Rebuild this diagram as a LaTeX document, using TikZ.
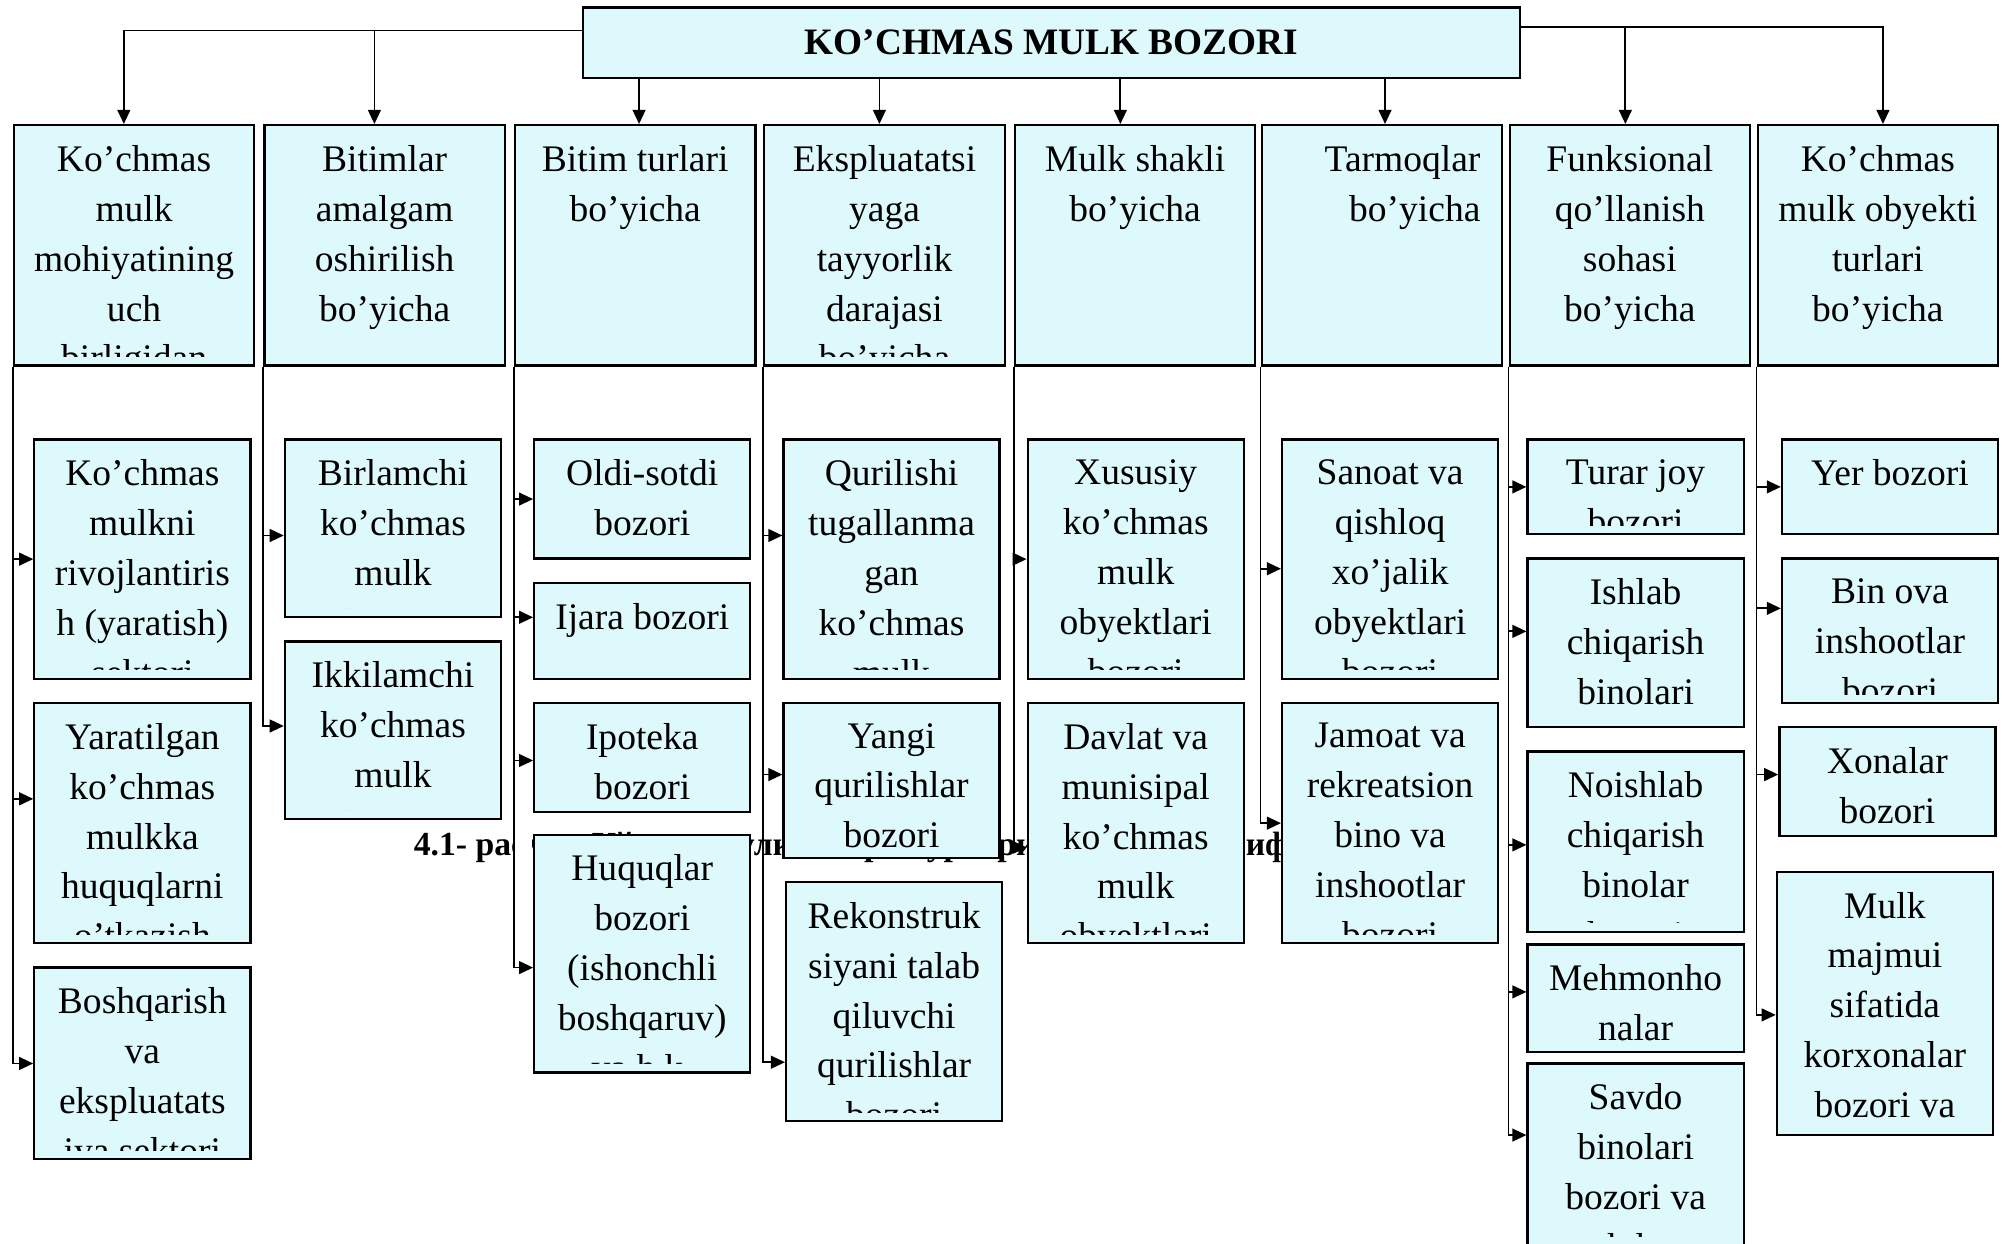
\documentclass[tikz,border=0pt]{standalone}
\usepackage{fontspec}
\setmainfont{Liberation Serif}
\usetikzlibrary{arrows.meta}
\definecolor{boxfill}{RGB}{222,249,251}

\tikzset{
  boxtext/.style={align=center, inner sep=0pt, minimum width=0pt, minimum height=0pt, font={\fontsize{8.35}{11.1}\selectfont}},
  box/.style 2 args={draw, line width=0.5pt, fill=boxfill, anchor=north west, inner sep=0pt,
    path picture={
      \clip ([yshift=0.7mm]path picture bounding box.south west) rectangle (path picture bounding box.north east);
      \node[boxtext, anchor=north] (#1) at ([yshift=-1.5mm]path picture bounding box.north) {#2};
    }},
  boxr/.style 2 args={draw, line width=0.5pt, fill=boxfill, anchor=north west, inner sep=0pt,
    path picture={
      \clip ([yshift=0.7mm]path picture bounding box.south west) rectangle (path picture bounding box.north east);
      \node[boxtext, align=right, anchor=north east] (#1) at ([xshift=-1.6mm,yshift=-1.5mm]path picture bounding box.north east) {#2};
    }},
  kbox/.style={minimum width=18.8mm, minimum height=18.8mm},
  sbox/.style={minimum width=16.9mm},
}

\begin{document}
\begin{tikzpicture}[x=0.1mm, y=-0.1mm, line width=0.4pt, >={Triangle[length=1.1mm,width=1mm]}]
\useasboundingbox (0,0) rectangle (1566,973);

% caption, mostly hidden behind the boxes
\node[anchor=base west, inner sep=0pt, font={\fontsize{7.5}{9}\selectfont\bfseries}] (cap) at (323,669.5)
  {4.1- расм.\hspace{1.8mm} Кўчмас мулк бозори турлари бўйича классификацияси};
\fill[white] (403,645) rectangle (416,690);

% top
\node[draw, line width=0.5pt, fill=boxfill, anchor=north west, minimum width=73.3mm, minimum height=5.5mm,
  font={\fontsize{8.3}{10}\selectfont\bfseries}] (top) at (455,5) {KO’CHMAS MULK BOZORI};

% categories
\node[box={t1}{Ko’chmas\\mulk\\mohiyatining\\uch\\birligidan}, kbox] (k1) at (10,97) {};
\node[box={t2}{Bitimlar\\amalgam\\oshirilish\\bo’yicha}, kbox] (k2) at (206,97) {};
\node[box={t3}{Bitim turlari\\bo’yicha}, kbox] (k3) at (402,97) {};
\node[box={t4}{Ekspluatatsi\\yaga\\tayyorlik\\darajasi\\bo’yicha}, kbox] (k4) at (597,97) {};
\node[box={t5}{Mulk shakli\\bo’yicha}, kbox] (k5) at (793,97) {};
\node[boxr={t6}{Tarmoqlar\\bo’yicha}, kbox] (k6) at (986,97) {};
\node[box={t7}{Funksional\\qo’llanish\\sohasi\\bo’yicha}, kbox] (k7) at (1180,97) {};
\node[box={t8}{Ko’chmas\\mulk obyekti\\turlari\\bo’yicha}, kbox] (k8) at (1374,97) {};

% column 1
\node[box={t11}{Ko’chmas\\mulkni\\rivojlantiris\\h (yaratish)\\sektori}, sbox, minimum height=18.7mm] (s11) at (26,343) {};
\node[box={t12}{Yaratilgan\\ko’chmas\\mulkka\\huquqlarni\\o’tkazish}, sbox, minimum height=18.8mm] (s12) at (26,549) {};
\node[box={t13}{Boshqarish\\va\\ekspluatats\\iya sektori}, sbox, minimum height=15mm] (s13) at (26,756) {};
% column 2
\node[box={t21}{Birlamchi\\ko’chmas\\mulk\\bozori}, sbox, minimum height=13.9mm] (s21) at (222,343) {};
\node[box={t22}{Ikkilamchi\\ko’chmas\\mulk\\bozori}, sbox, minimum height=13.9mm] (s22) at (222,501) {};
% column 3
\node[box={t31}{Oldi-sotdi\\bozori}, sbox, minimum height=9.3mm] (s31) at (417,343) {};
\node[box={t32}{Ijara bozori}, sbox, minimum height=7.5mm] (s32) at (417,455) {};
\node[box={t33}{Ipoteka\\bozori}, sbox, minimum height=8.5mm] (s33) at (417,549) {};
\node[box={t34}{Huquqlar\\bozori\\(ishonchli\\boshqaruv)\\va h.k.}, sbox, minimum height=18.6mm] (s34) at (417,652) {};
% column 4
\node[box={t41}{Qurilishi\\tugallanma\\gan\\ko’chmas\\mulk\\bozori}, sbox, minimum height=18.7mm] (s41) at (612,343) {};
\node[box={t42}{Yangi\\qurilishlar\\bozori}, sbox, minimum height=12.1mm] (s42) at (612,549) {};
\node[box={t43}{Rekonstruk\\siyani talab\\qiluvchi\\qurilishlar\\bozori}, sbox, minimum height=18.7mm] (s43) at (614,689) {};
% column 5
\node[box={t51}{Xususiy\\ko’chmas\\mulk\\obyektlari\\bozori}, sbox, minimum height=18.7mm] (s51) at (803,343) {};
\node[box={t52}{Davlat va\\munisipal\\ko’chmas\\mulk\\obyektlari}, sbox, minimum height=18.8mm] (s52) at (803,549) {};
% column 6
\node[box={t61}{Sanoat va\\qishloq\\xo’jalik\\obyektlari\\bozori}, sbox, minimum height=18.7mm] (s61) at (1002,343) {};
\node[box={t62}{Jamoat va\\rekreatsion\\bino va\\inshootlar\\bozori}, sbox, minimum height=18.8mm] (s62) at (1002,549) {};
% column 7
\node[box={t71}{Turar joy\\bozori}, sbox, minimum height=7.4mm] (s71) at (1194,343) {};
\node[box={t72}{Ishlab\\chiqarish\\binolari}, sbox, minimum height=13.2mm] (s72) at (1194,436) {};
\node[box={t73}{Noishlab\\chiqarish\\binolar\\bozori}, sbox, minimum height=14.1mm] (s73) at (1194,587) {};
\node[box={t74}{Mehmonho\\nalar}, sbox, minimum height=8.4mm] (s74) at (1194,738) {};
\node[box={t75}{Savdo\\binolari\\bozori va\\h.k.}, sbox, minimum height=14.2mm] (s75) at (1194,831) {};
% column 8
\node[box={t81}{Yer bozori}, sbox, minimum height=7.4mm] (s81) at (1393,343) {};
\node[box={t82}{Bin ova\\inshootlar\\bozori}, sbox, minimum height=11.3mm] (s82) at (1393,436) {};
\node[box={t83}{Xonalar\\bozori}, sbox, minimum height=8.5mm] (s83) at (1391,568) {};
\node[box={t84}{Mulk\\majmui\\sifatida\\korxonalar\\bozori va}, sbox, minimum height=20.6mm] (s84) at (1389,681) {};

% top arrows
\draw[->] ([yshift=0.95mm]top.west) -| ([xshift=-0.8mm]k1.north);
\draw[->] ([yshift=0.95mm]top.west) -| ([xshift=-0.8mm]k2.north);
\draw[->] ([xshift=0.3mm]k3.north |- top.south) -- ([xshift=0.3mm]k3.north);
\draw[->] ([xshift=-0.4mm]k4.north |- top.south) -- ([xshift=-0.4mm]k4.north);
\draw[->] ([xshift=-1.15mm]k5.north |- top.south) -- ([xshift=-1.15mm]k5.north);
\draw[->] ([xshift=0.25mm]k6.north |- top.south) -- ([xshift=0.25mm]k6.north);
\draw[->] ([yshift=1.25mm]top.east) -| ([xshift=-0.35mm]k7.north);
\draw[->] ([yshift=1.25mm]top.east) -| ([xshift=0.4mm]k8.north);

% column arrows
\draw[->] (k1.south west) |- (s11.west);
\draw[->] (k1.south west) |- ([yshift=1.9mm]s12.west);
\draw[->] (k1.south west) |- (s13.west);
\draw[->] (k2.south west) |- ([yshift=-0.55mm]s21.west);
\draw[->] (k2.south west) |- ([yshift=0.35mm]s22.west);
\draw[->] (k3.south west) |- (s31.west);
\draw[->] (k3.south west) |- ([yshift=1.05mm]s32.west);
\draw[->] (k3.south west) |- ([yshift=-0.25mm]s33.west);
\draw[->] (k3.south west) |- ([yshift=-1.1mm]s34.west);
\draw[->] (k4.south west) |- ([yshift=1.85mm]s41.west);
\draw[->] (k4.south west) |- ([yshift=0.45mm]s42.west);
\draw[->] (k4.south west) |- ([yshift=-4.75mm]s43.west);
\draw[->] (k5.south west) |- (s51.west);
\draw[->] (k5.south west) |- ([yshift=-1.9mm]s52.west);
\draw[->] (k6.south west) |- ([yshift=-0.75mm]s61.west);
\draw[->] (k6.south west) |- (s62.west);
\draw[->] (k7.south west) |- (s71.west);
\draw[->] (k7.south west) |- ([yshift=0.9mm]s72.west);
\draw[->] (k7.south west) |- ([yshift=-0.25mm]s73.west);
\draw[->] (k7.south west) |- ([yshift=0.5mm]s74.west);
\draw[->] (k7.south west) |- ([yshift=1.5mm]s75.west);
\draw[->] (k8.south west) |- (s81.west);
\draw[->] (k8.south west) |- ([yshift=1.75mm]s82.west);
\draw[->] (k8.south west) |- ([yshift=0.55mm]s83.west);
\draw[->] (k8.south west) |- ([yshift=-0.9mm]s84.west);
\end{tikzpicture}
\end{document}
